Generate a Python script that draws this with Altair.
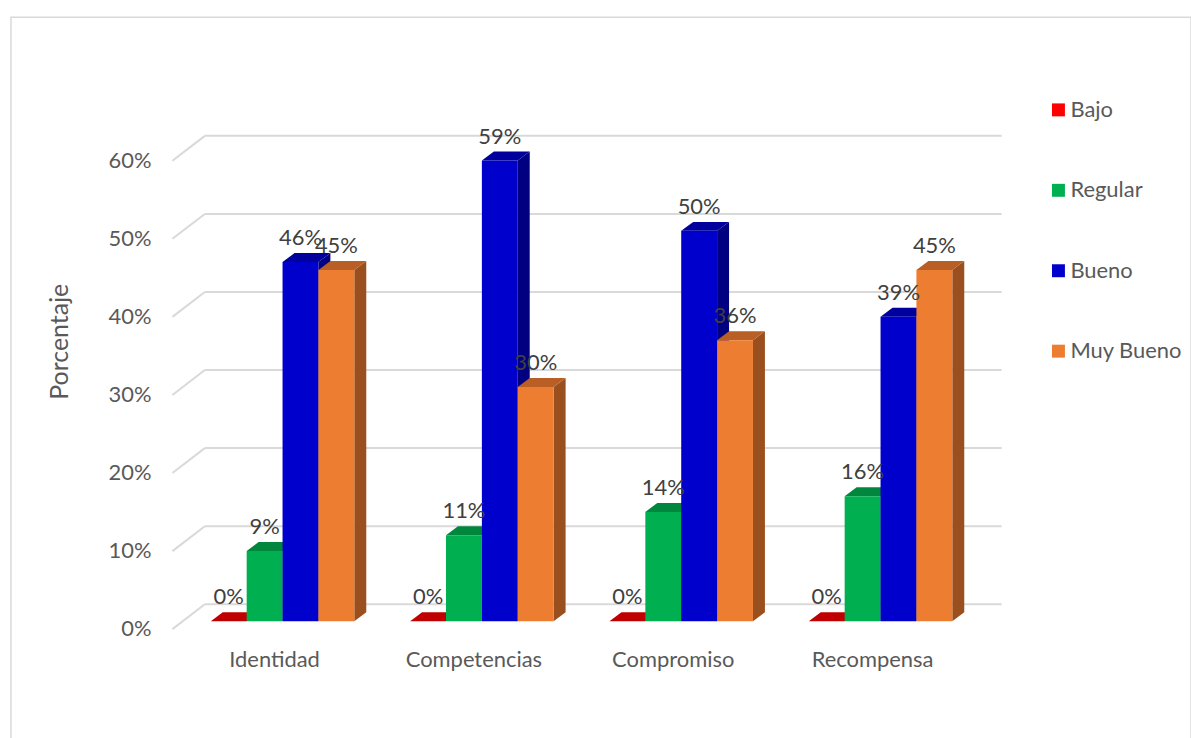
import altair as alt
import pandas as pd

# ---------------- data ----------------
categories = ["Identidad", "Competencias", "Compromiso", "Recompensa"]
series = ["Bajo", "Regular", "Bueno", "Muy Bueno"]
bajo = [0, 0, 0, 0]
regular = [9, 11, 14, 16]
bueno = [46, 59, 50, 39]
muy_bueno = [45, 30, 36, 45]
y_ticks = [0, 10, 20, 30, 40, 50, 60]
y_title = "Porcentaje"

# ---------------- style ----------------
FONT = "Lato"
FS = 22
front_col = {"Bajo": "#FF0000", "Regular": "#00B050", "Bueno": "#0000CC", "Muy Bueno": "#ED7D31"}
top_col = {"Bajo": "#C00000", "Regular": "#00873D", "Bueno": "#00009C", "Muy Bueno": "#B95E24"}
side_col = {"Bajo": "#A00000", "Regular": "#006F32", "Bueno": "#000080", "Muy Bueno": "#9A4F1F"}
GRID = "#D9D9D9"

# geometry in scale units (x: one unit per category, y: fraction)
BAR_W = 0.18
DX = 0.06
DY = 0.0115
BACK_DY = 0.0217
FRONT_DY = -0.0102
WALL_X0 = -0.5525
WALL_X1 = -0.39
WALL_X2 = 3.6075

values = {"Bajo": bajo, "Regular": regular, "Bueno": bueno, "Muy Bueno": muy_bueno}

front_rows, side_rows, top_rows = [], [], []
for i, cat in enumerate(categories):
    for j, s in enumerate(series):
        v = values[s][i] / 100
        x0 = i + (j - 2) * BAR_W
        x1 = x0 + BAR_W
        bid = f"{i}-{j}"
        front_rows.append(dict(cat=cat, series=s, x0=x0, x1=x1, v=v,
                               xc=(x0 + x1) / 2, lab=f"{values[s][i]}%"))
        side_rows += [dict(bid=bid, col=side_col[s], x=x1, y=v, y2=0.0),
                      dict(bid=bid, col=side_col[s], x=x1 + DX, y=v + DY, y2=DY)]
        top_rows += [dict(bid=bid, col=top_col[s], y=v, x=x0, x2=x1),
                     dict(bid=bid, col=top_col[s], y=v + DY, x=x0 + DX, x2=x1 + DX)]

front = pd.DataFrame(front_rows)
side = pd.DataFrame(side_rows)
top = pd.DataFrame(top_rows)
grid = pd.DataFrame(dict(t=[t / 100 for t in y_ticks], lab=[f"{t}%" for t in y_ticks]))
cats = pd.DataFrame(dict(cat=categories, i=list(range(len(categories)))))

xs = alt.Scale(domain=[-1.3625, 4.5575], nice=False, zero=False)
ys = alt.Scale(domain=[-0.157, 0.7737], nice=False, zero=False)

base_grid = alt.Chart(grid).transform_calculate(
    yb=f"datum.t + {BACK_DY}", yf=f"datum.t + {FRONT_DY}",
    xa=f"{WALL_X0}", xb=f"{WALL_X1}", xc=f"{WALL_X2}")

back_lines = base_grid.mark_rule(color=GRID, strokeWidth=2).encode(
    x=alt.X("xb:Q", scale=xs, axis=None), x2="xc:Q",
    y=alt.Y("yb:Q", scale=ys, axis=None))
diag_lines = base_grid.mark_rule(color=GRID, strokeWidth=2).encode(
    x=alt.X("xa:Q", scale=xs), x2="xb:Q",
    y=alt.Y("yf:Q", scale=ys), y2="yb:Q")
y_labels = base_grid.transform_calculate(xl="-0.6575").mark_text(
    font=FONT, fontSize=FS, color="#595959", align="right", baseline="middle").encode(
    x=alt.X("xl:Q", scale=xs), y=alt.Y("yf:Q", scale=ys), text="lab:N")

sides = alt.Chart(side).mark_area(orient="vertical").encode(
    x=alt.X("x:Q", scale=xs), y=alt.Y("y:Q", scale=ys), y2="y2:Q",
    detail="bid:N", color=alt.Color("col:N", scale=None))
tops = alt.Chart(top).mark_area(orient="horizontal").encode(
    y=alt.Y("y:Q", scale=ys), x=alt.X("x:Q", scale=xs), x2="x2:Q",
    detail="bid:N", color=alt.Color("col:N", scale=None))

fronts = alt.Chart(front).mark_rect().encode(
    x=alt.X("x0:Q", scale=xs), x2="x1:Q",
    y=alt.Y("v:Q", scale=ys), y2=alt.datum(0),
    color=alt.Color("series:N",
                    scale=alt.Scale(domain=series, range=[front_col[s] for s in series]),
                    legend=alt.Legend(orient="none", legendX=1040, legendY=82, title=None,
                                      symbolType="square", symbolSize=169,
                                      symbolStrokeWidth=0, labelFont=FONT, labelFontSize=FS,
                                      labelColor="#595959", rowPadding=58.7, labelOffset=1,
                                      padding=0)))

value_labels = alt.Chart(front).mark_text(
    font=FONT, fontSize=FS, color="#404040", baseline="middle", dy=-24).encode(
    x=alt.X("xc:Q", scale=xs), y=alt.Y("v:Q", scale=ys), text="lab:N")

cat_labels = alt.Chart(cats).transform_calculate(
    xl="datum.i - 0.04", yl="-0.0498").mark_text(
    font=FONT, fontSize=FS, color="#595959", baseline="middle").encode(
    x=alt.X("xl:Q", scale=xs), y=alt.Y("yl:Q", scale=ys), text="cat:N")

title = alt.Chart(pd.DataFrame(dict(t=[y_title]))).transform_calculate(
    xl="-1.1175", yl="0.358").mark_text(
    font=FONT, fontSize=25, color="#595959", angle=270, baseline="middle").encode(
    x=alt.X("xl:Q", scale=xs), y=alt.Y("yl:Q", scale=ys), text="t:N")

chart = alt.layer(back_lines, diag_lines, y_labels, sides, tops, fronts,
                  value_labels, cat_labels, title).properties(
    width=1184, height=729,
    padding={"left": 11, "top": 16, "right": 0, "bottom": 0},
    autosize=alt.AutoSizeParams(type="none"),
).configure_view(stroke=GRID, strokeWidth=1.5)

chart.save("out.html", embed_options={"renderer": "svg", "actions": False})
